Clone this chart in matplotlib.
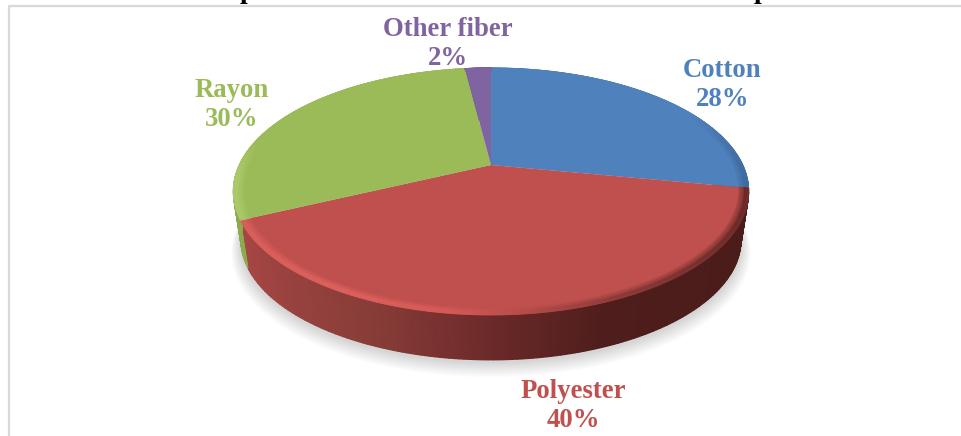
import numpy as np
from matplotlib import pyplot as plt
from matplotlib.colors import to_rgb

labels = ['Cotton', 'Polyester', 'Rayon', 'Other fiber']
shares = [28, 40, 30, 2]
colors = ['#4F81BD', '#C0504D', '#9BBB59', '#8064A2']
label_pos = [(722.5, 85), (573, 406), (232, 105), (447.5, 44)]
title_stubs = [(240, 'p'), (754, 'p')]

# perspective disc: centre, half axes, tilt
CX, CY = 491, 165
A, B, K = 251.7, 117.8, 0.2143
DEPTH, SHRINK = 49.5, 0.97


def project(theta, r=1.0, base=False):
    # theta is measured clockwise from twelve o'clock
    u = r * np.sin(theta)
    v = r * np.cos(theta)
    w = 1 + K * v
    s = SHRINK if base else 1.0
    d = DEPTH if base else 0.0
    return CX + s * A * u / w, CY + d - s * B * v / w


def ramp(stops, t):
    pos = [p for p, _ in stops]
    rgb = np.array([to_rgb(c) for _, c in stops])
    return np.stack([np.interp(t, pos, rgb[:, i]) for i in range(3)], axis=-1)


# wall and bevel shades by screen position, 0 = left edge, 1 = right edge
wall_red = [(0, '#A84745'), (0.1, '#99423F'), (0.28, '#873C37'), (0.42, '#76302F'),
            (0.55, '#652726'), (0.72, '#4F1E1C'), (1, '#4A1C1A')]
wall_green = [(0, '#8CAB4E'), (1, '#7F9C42')]
wall_blue = [(0, '#3A6190'), (1, '#3A6190')]
wall_purple = [(0, '#604B7A'), (1, '#604B7A')]
walls = [wall_blue, wall_red, wall_green, wall_purple]

bevel_red = [(0, '#D85F5B'), (0.2, '#DE615D'), (0.42, '#D65B57'), (0.52, '#C0504D'),
             (0.75, '#8A3A38'), (1, '#6A2A28')]
bevel_green = [(0, '#AECB6C'), (0.04, '#9BBB59'), (1, '#9BBB59')]
bevel_blue = [(0, '#4F81BD'), (0.9, '#4F81BD'), (1, '#3E6C9F')]
bevel_purple = [(0, '#8064A2'), (1, '#8064A2')]
bevels = [bevel_blue, bevel_red, bevel_green, bevel_purple]

fig = plt.figure(figsize=(9.61, 4.36), dpi=100)
ax = fig.add_axes([0, 0, 1, 1])
ax.set_xlim(0, 961)
ax.set_ylim(436, 0)
ax.axis('off')

# chart frame
ax.plot([9, 9, 961], [436, 6, 6], color='#D9D9D9', lw=1.6, zorder=1)

# heading sits above the frame, only its descenders show
for x, s in title_stubs:
    ax.text(x, -1.5, s, color='black', family='Liberation Serif', weight='bold',
            fontsize=20, ha='left', va='baseline', clip_on=False, zorder=1)

# soft shadow under the base
tt = np.linspace(0, 2 * np.pi, 240)
for i in range(14):
    sx, sy = project(tt, base=True)
    grow = 1 + 0.0028 * (14 - i)
    ax.fill(CX + (sx - CX) * grow, sy + 2.0 + (14 - i) * 0.55 + (sy - CY) * (grow - 1),
            color='#000000', alpha=0.011, lw=0, zorder=2)

edges = np.radians(np.cumsum([0] + shares) * 3.6)

# side walls
for i in range(len(shares)):
    th = np.linspace(edges[i], edges[i + 1], 160)
    tx, ty = project(th)
    bx, by = project(th, base=True)
    X = np.stack([tx, bx])
    Y = np.stack([ty, by])
    c = ramp(walls[i], (tx - 234) / 514)
    ax.pcolormesh(X, Y, np.stack([c, c]), shading='gouraud', zorder=3)

# top faces
for i in range(len(shares)):
    th = np.linspace(edges[i], edges[i + 1], 160)
    fx, fy = project(th)
    ax.fill(np.r_[CX, fx], np.r_[CY, fy], color=colors[i], lw=0, zorder=4)

# rounded bevel around each top face
for i in range(len(shares)):
    th = np.linspace(edges[i], edges[i + 1], 160)
    radii = np.array([0.962, 0.985, 1.0])
    X = np.empty((3, th.size))
    Y = np.empty((3, th.size))
    for j, r in enumerate(radii):
        X[j], Y[j] = project(th, r)
    rim = ramp(bevels[i], (X[2] - 234) / 514)
    face = np.array(to_rgb(colors[i]))
    C = np.stack([np.broadcast_to(face, rim.shape), rim, rim * 0.9 + 0.1 * face])
    ax.pcolormesh(X, Y, C, shading='gouraud', zorder=5)

for name, share, col, (x, y) in zip(labels, shares, colors, label_pos):
    ax.text(x, y, f'{name}\n{share}%', color=col, ha='center', va='center',
            family='Liberation Serif', weight='bold', fontsize=19.3, linespacing=1.24, zorder=7)

fig.savefig('out.png', dpi=100)
